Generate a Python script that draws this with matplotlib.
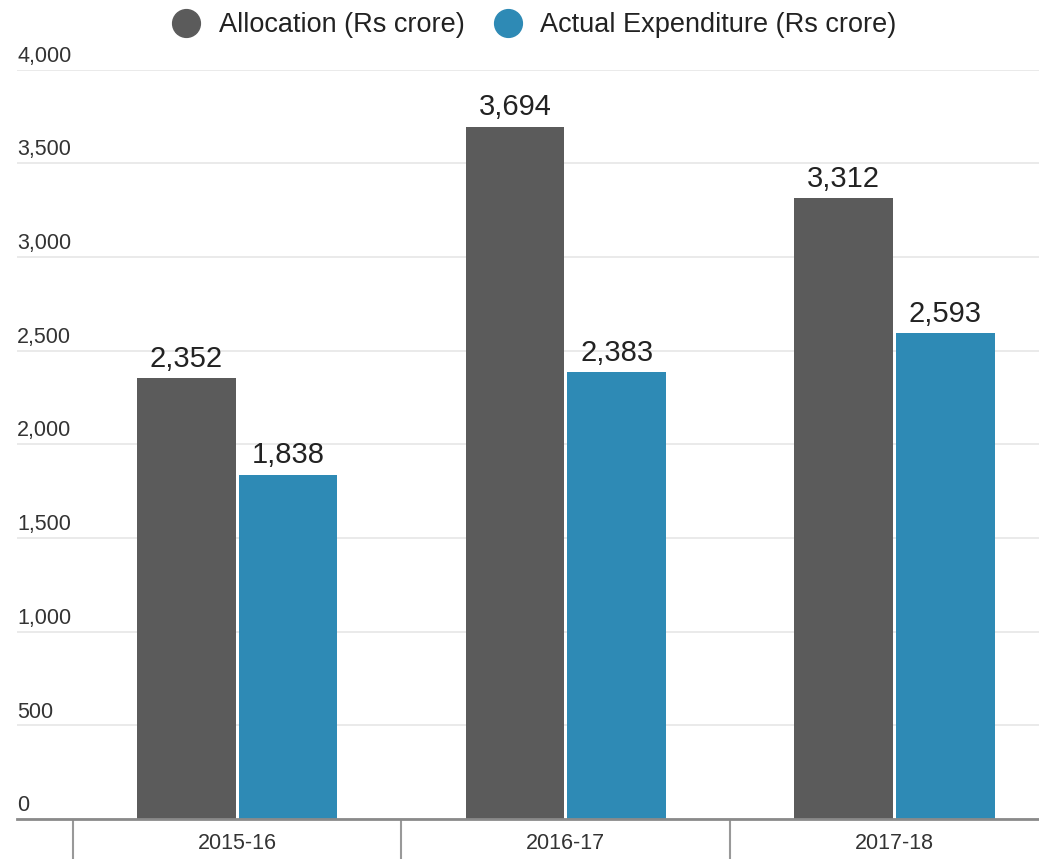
import matplotlib
matplotlib.use("Agg")
import matplotlib.pyplot as plt
import numpy as np
from matplotlib.lines import Line2D

# Datos del gráfico
years = ["2015-16", "2016-17", "2017-18"]
allocation = [2352, 3694, 3312]
actual = [1838, 2383, 2593]
y_ticks = [0, 500, 1000, 1500, 2000, 2500, 3000, 3500, 4000]

gray = "#5b5b5b"
blue = "#2e8ab5"

plt.rcParams['font.family'] = ['Liberation Sans', 'DejaVu Sans']

fig = plt.figure(figsize=(10.39, 8.59), dpi=100)
W, H = 1039, 859
ax = fig.add_axes([17 / W, (H - 819) / H, (W - 17) / W, (819 - 69.5) / H])

x = np.arange(len(years))
w = 0.3
off = 0.155
ax.bar(x - off, allocation, w, color=gray, zorder=3)
ax.bar(x + off, actual, w, color=blue, zorder=3)

# Etiquetas sobre las barras
for xi, v in zip(x - off, allocation):
    ax.annotate(f"{v:,}", (xi, v), xytext=(0, 4), textcoords="offset points",
                ha="center", va="bottom", fontsize=21, color="#222222")
for xi, v in zip(x + off, actual):
    ax.annotate(f"{v:,}", (xi, v), xytext=(0, 4), textcoords="offset points",
                ha="center", va="bottom", fontsize=21, color="#222222")

# Líneas de cuadrícula y etiquetas del eje y sobre las líneas
ax.set_yticks(y_ticks)
ax.set_yticklabels([])
ax.tick_params(axis="y", length=0)
ax.grid(axis="y", color="#e6e6e6", linewidth=1.2, zorder=0)
for t in y_ticks:
    ax.annotate(f"{t:,}", (0, t), xycoords=ax.get_yaxis_transform(),
                xytext=(0, 2), textcoords="offset points",
                ha="left", va="bottom", fontsize=15.5, color="#333333",
                annotation_clip=False)

# Eje x con separadores de categorías
ax.set_xticks(x)
ax.set_xticklabels(years, fontsize=15.5, color="#333333")
ax.set_xticks([-0.5, 0.5, 1.5, 2.5], minor=True)
ax.tick_params(axis="x", which="major", length=0, pad=10)
ax.tick_params(axis="x", which="minor", length=30, width=1.5, color="#999999", direction="out")

# los límites van después de los ticks (set_xticks amplía la vista)
ax.set_xlim(-0.67, 2.44)
ax.set_ylim(0, 4000)

for s in ["top", "right", "left"]:
    ax.spines[s].set_visible(False)
ax.spines["bottom"].set_color("#8a8a8a")
ax.spines["bottom"].set_linewidth(2)
ax.spines["bottom"].set_zorder(4)

handles = [
    Line2D([], [], marker="o", linestyle="", markersize=20, color=gray),
    Line2D([], [], marker="o", linestyle="", markersize=20, color=blue),
]
fig.legend(handles, ["Allocation (Rs crore)", "Actual Expenditure (Rs crore)"],
           loc="center", bbox_to_anchor=(528 / W, 1 - 25 / H), ncol=2,
           frameon=False, fontsize=19.5, handletextpad=0.2, columnspacing=0.6,
           labelcolor="#222222")

fig.savefig("out.png", dpi=100)
